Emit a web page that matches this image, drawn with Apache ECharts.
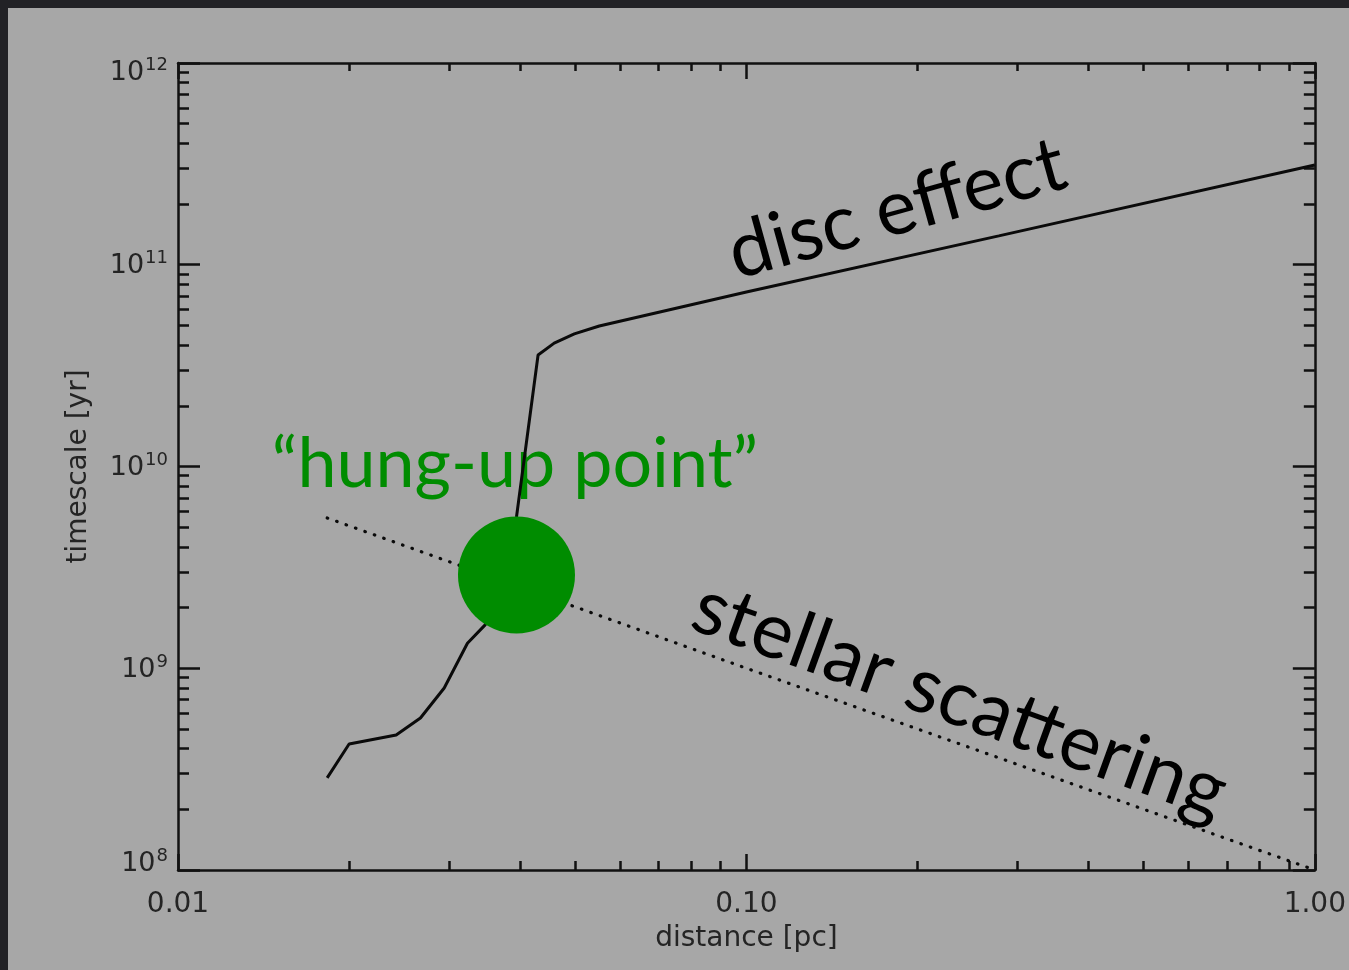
<!DOCTYPE html>
<html>
<head>
<meta charset="utf-8">
<script src="https://cdn.jsdelivr.net/npm/echarts@6/dist/echarts.min.js"></script>
<style>
  html, body { margin: 0; padding: 0; width: 1349px; height: 970px; background: #222226; overflow: hidden; }
  #chart { position: absolute; left: 8px; top: 8px; width: 1341px; height: 962px; }
</style>
</head>
<body>
<div id="chart"></div>
<script>
// ---- data ----
const discX = [0.0183, 0.0200, 0.0242, 0.0267, 0.0294, 0.0323, 0.0347, 0.0375, 0.0394, 0.0430, 0.0459, 0.0498, 0.0551, 0.100, 0.278, 1.00];
const discY = [2.86e8, 4.21e8, 4.67e8, 5.67e8, 7.98e8, 1.33e9, 1.64e9, 3.07e9, 5.62e9, 3.57e10, 4.09e10, 4.54e10, 4.97e10, 7.33e10, 1.39e11, 3.12e11];
const stellarX = [0.0183, 0.100, 1.00];
const stellarY = [5.56e9, 1.00e9, 1.00e8];
const hungX = [0.0394];
const hungY = [2.90e9];
const xMajorTicks = [0.01, 0.1, 1];
const xMinorTicks = [0.02, 0.03, 0.04, 0.05, 0.06, 0.07, 0.08, 0.09, 0.2, 0.3, 0.4, 0.5, 0.6, 0.7, 0.8, 0.9];
const yMajorTicks = [1e8, 1e9, 1e10, 1e11, 1e12];
const yMinorTicks = [];
[1e8, 1e9, 1e10, 1e11].forEach(d => { for (let k = 2; k <= 9; k++) yMinorTicks.push(d * k); });
const xLabels = ['0.01', '0.10', '1.00'];
const xName = 'distance [pc]';
const yName = 'timescale [yr]';
const labelDisc = 'disc effect';
const labelStellar = 'stellar scattering';
const labelHung = '\u201chung-up point\u201d';

const AX = '#111111';
const TXT = '#242424';
const FONT = 'DejaVu Sans';
const ANNO = 'Lato';

function zip(a, b) { return a.map((v, i) => [v, b[i]]); }

function xAx(pos, ticks, len, extra) {
  return Object.assign({
    type: 'log', logBase: 10, min: 0.01, max: 1, position: pos,
    axisLine: { show: true, lineStyle: { color: AX, width: 2.5 } },
    axisTick: { show: true, inside: true, length: len, customValues: ticks, lineStyle: { color: AX, width: 2.5 } },
    axisLabel: { show: false },
    splitLine: { show: false }, minorTick: { show: false }, minorSplitLine: { show: false }
  }, extra || {});
}
function yAx(pos, ticks, len, extra) {
  return Object.assign({
    type: 'log', logBase: 10, min: 1e8, max: 1e12, position: pos,
    axisLine: { show: true, lineStyle: { color: AX, width: 2.5 } },
    axisTick: { show: true, inside: true, length: len, customValues: ticks, lineStyle: { color: AX, width: 2.5 } },
    axisLabel: { show: false },
    splitLine: { show: false }, minorTick: { show: false }, minorSplitLine: { show: false }
  }, extra || {});
}

const chart = echarts.init(document.getElementById('chart'), null, { renderer: 'canvas' });
const option = {
  backgroundColor: '#a7a7a7',
  animation: false,
  grid: { left: 170, top: 55, right: 32, bottom: 100, containLabel: false },
  xAxis: [
    xAx('bottom', xMajorTicks, 16, {
      axisLabel: {
        show: true, customValues: xMajorTicks, margin: 21, color: TXT, fontFamily: FONT, fontSize: 28,
        formatter: v => xLabels[xMajorTicks.findIndex(t => Math.abs(t - v) < 1e-9)]
      },
      name: xName, nameLocation: 'middle', nameGap: 55,
      nameTextStyle: { color: TXT, fontFamily: FONT, fontSize: 28, verticalAlign: 'top' }
    }),
    xAx('bottom', xMinorTicks, 9, { axisLine: { show: false } }),
    xAx('top', xMajorTicks, 16),
    xAx('top', xMinorTicks, 8, { axisLine: { show: false } })
  ],
  yAxis: [
    yAx('left', yMajorTicks, 22, {
      axisLabel: {
        show: true, customValues: yMajorTicks, margin: 10, color: TXT,
        formatter: v => {
          const e = Math.round(Math.log10(v));
          const main = '{b|10}{s|' + e + '}';
          if (e === 12) return '{g|}\n' + main;
          if (e === 8) return main + '\n{g|}';
          return main;
        },
        rich: {
          b: { fontFamily: FONT, fontSize: 27, color: TXT, lineHeight: 30, verticalAlign: 'bottom' },
          s: { fontFamily: FONT, fontSize: 18, color: TXT, lineHeight: 30, verticalAlign: 'top', padding: [0, 0, 0, 1] },
          g: { fontSize: 1, lineHeight: 16 }
        }
      },
      name: yName, nameLocation: 'middle', nameGap: 85, nameRotate: 90,
      nameTextStyle: { color: TXT, fontFamily: FONT, fontSize: 28 }
    }),
    yAx('left', yMinorTicks, 11, { axisLine: { show: false } }),
    yAx('right', yMajorTicks, 22),
    yAx('right', yMinorTicks, 11, { axisLine: { show: false } })
  ],
  series: [
    {
      name: 'disc effect', type: 'line', xAxisIndex: 0, yAxisIndex: 0, z: 2,
      data: zip(discX, discY), showSymbol: false, symbol: 'none',
      lineStyle: { color: '#0a0a0a', width: 3 }
    },
    {
      name: 'stellar scattering', type: 'line', xAxisIndex: 0, yAxisIndex: 0, z: 2,
      data: zip(stellarX, stellarY), showSymbol: false, symbol: 'none',
      lineStyle: { color: '#0a0a0a', width: 3.2, type: [0.6, 9.4], cap: 'round' }
    },
    {
      name: 'hung-up point', type: 'scatter', xAxisIndex: 0, yAxisIndex: 0, z: 5,
      data: zip(hungX, hungY), symbol: 'circle', symbolSize: 117,
      itemStyle: { color: '#008c00', opacity: 1 }
    }
  ],
  graphic: [
    { type: 'text', z: 1, x: 897 - 8, y: 209 - 8, rotation: 15.5 * Math.PI / 180,
      style: { text: labelDisc, fill: '#000', font: '77px ' + ANNO, align: 'center', verticalAlign: 'middle' } },
    { type: 'text', z: 1, x: 960 - 8, y: 700 - 8, rotation: -20 * Math.PI / 180,
      style: { text: labelStellar, fill: '#000', font: '78px ' + ANNO, align: 'center', verticalAlign: 'middle' } },
    { type: 'text', z: 1, x: 515 - 8, y: 464 - 8,
      style: { text: labelHung, fill: '#008c00', font: '70px ' + ANNO, align: 'center', verticalAlign: 'middle' } }
  ]
};
chart.setOption(option);
</script>
</body>
</html>
